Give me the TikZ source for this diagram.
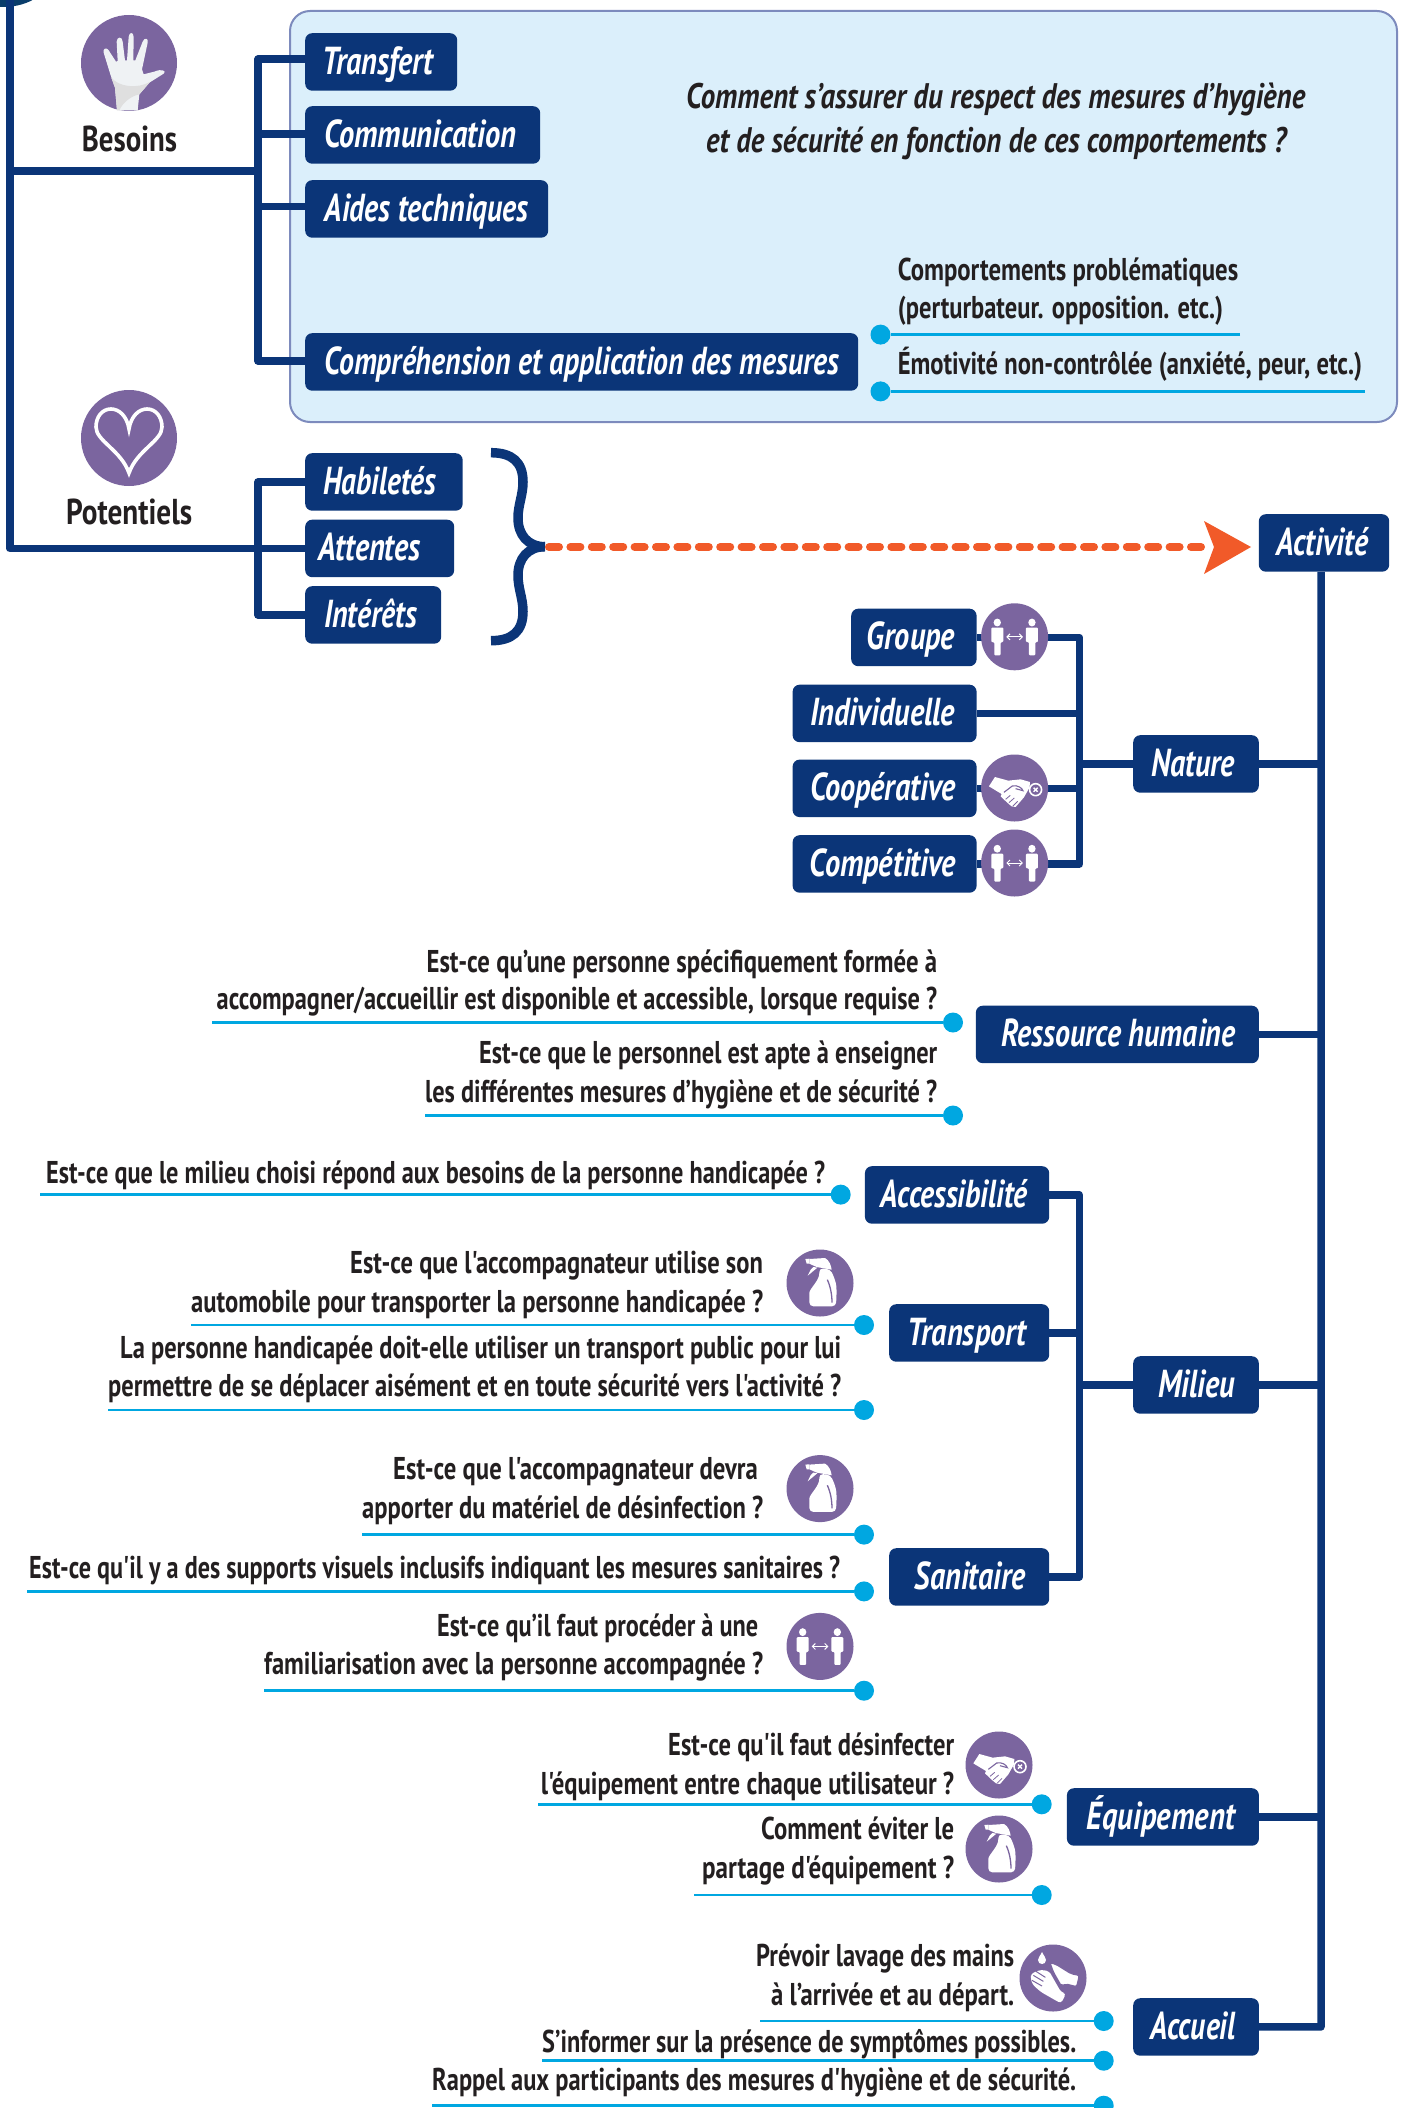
\documentclass[tikz,border=0pt]{standalone}
\usepackage{fontspec}
\usepackage{graphicx}
\usetikzlibrary{arrows.meta,calc}
\newfontfamily\ptsans{PT Sans}
\definecolor{navy}{HTML}{0B3578}
\definecolor{purp}{HTML}{7B659F}
\definecolor{sky}{HTML}{00A7E1}
\definecolor{panelf}{HTML}{DBEFFB}
\definecolor{panelb}{HTML}{7D8BBD}
\definecolor{orng}{HTML}{F15A29}
\definecolor{ink}{HTML}{231F20}
\definecolor{blob}{HTML}{0A3D6B}
\pgfdeclarelayer{background}
\pgfsetlayers{background,main}
\tikzset{
  conn/.style={draw=navy,line width=7.5pt,line join=round},
  boxn/.style={fill=navy,rounded corners=7pt,inner sep=0pt,text=white,text height=41pt,text depth=16.5pt,anchor=north west,
    font=\ptsans\bfseries\itshape\fontsize{39}{39}\selectfont},
  txt/.style={inner sep=0pt,anchor=base west,text=ink,font=\ptsans\bfseries\fontsize{31.5}{31.5}\selectfont},
  headt/.style={txt,font=\ptsans\bfseries\fontsize{36}{36}\selectfont},
  ques/.style={txt,font=\ptsans\bfseries\itshape\fontsize{35.5}{35.5}\selectfont},
  dotn/.style={circle,fill=sky,minimum size=20pt,inner sep=0pt},
  leadl/.style={draw=sky,line width=2.6pt},
  iconc/.style={circle,fill=purp,minimum size=67pt,inner sep=0pt},
  iconb/.style={circle,fill=purp,minimum size=96pt,inner sep=0pt},
  pics/handic/.style={code={
    \begin{scope}[x=.3333pt,y=-.3333pt,shift={(-164,-156)}]
      \fill[white!95!black!98!cyan] (128,298) -- (122,230) -- (108,190) -- (88,125) .. controls (85,112) and (97,108) .. (103,118)
        -- (125,152) -- (130,150) -- (127,92) .. controls (127,76) and (145,76) .. (145,92) -- (152,148) -- (158,148) -- (163,78)
        .. controls (164,62) and (178,62) .. (178,78) -- (177,148) -- (183,148) -- (205,92) .. controls (210,78) and (224,82) .. (220,95)
        -- (203,175) -- (208,190) -- (240,182) .. controls (262,172) and (278,180) .. (268,188) -- (225,215) -- (195,250) -- (190,298) -- cycle;
      \fill[gray!25] (110,198) .. controls (130,228) and (190,235) .. (228,212) -- (195,250) .. controls (170,255) and (145,275) .. (135,298) -- (128,298) -- (122,230) -- cycle;
    \end{scope}}},
  pics/heartic/.style={code={
    \draw[white,line width=3.6pt,line join=miter] (0,-9) .. controls (-2,-22) and (-10,-29) .. (-18,-29) .. controls (-27,-29) and (-33,-21) .. (-33,-11)
      .. controls (-33,3) and (-8,12) .. (0,35) .. controls (8,12) and (33,3) .. (33,-11) .. controls (33,-21) and (27,-29) .. (18,-29) .. controls (10,-29) and (2,-22) .. cycle;}},
  pics/peopleic/.style={code={
    \begin{scope}[x=.3333pt,y=-.3571pt,shift={(-360,-1390)}]
      \foreach \mx in {0,1}{
        \begin{scope}[xshift={\mx*104*.3333pt}]
        \fill[white] (308,1350) circle[x radius=11,y radius=11];
        \fill[white,rounded corners=1pt] (290,1364) -- (326,1364) -- (326,1405) -- (318,1405) -- (318,1442) -- (299,1442) -- (299,1405) -- (290,1405) -- cycle;
        \end{scope}}
      \draw[white,line width=1pt,{Straight Barb[length=3pt,width=6pt]}-{Straight Barb[length=3pt,width=6pt]}] (335,1390) -- (385,1390);
    \end{scope}}},
  pics/sprayic/.style={code={
    \begin{scope}[x=.3333pt,y=-.3333pt,shift={(-150,-148)}]
      \fill[white] (106,76) -- (118,75) -- (118,90) -- (110,90) -- cycle;
      \fill[white] (118,76) -- (165,73) .. controls (178,80) and (183,95) .. (185,108) -- (140,100) -- (118,90) -- cycle;
      \fill[white] (130,100) -- (142,102) -- (113,126) -- (122,108) -- cycle;
      \fill[white,rounded corners=4pt] (147,104) .. controls (150,140) and (118,165) .. (118,190) -- (118,218) -- (198,218) -- (200,170) .. controls (198,145) and (190,125) .. (180,106) -- cycle;
      \draw[purp,line width=1.3pt] (172,138) .. controls (182,160) and (186,185) .. (186,207);
    \end{scope}}},
  pics/shakeic/.style={code={
    \begin{scope}[x=.3333pt,y=-.3333pt,shift={(-147,-150)}]
      \fill[white] (70,145) -- (88,117) -- (128,128) -- (165,124) -- (193,132) -- (192,148) -- (175,178) -- (150,207) -- (138,205) -- (125,194) -- (105,175) -- (108,168) -- cycle;
      \draw[purp,line width=1.1pt] (115,163) -- (140,144) .. controls (155,140) and (170,150) .. (172,158) -- (150,152);
      \draw[purp,line width=.8pt] (120,184) -- (134,172) (130,194) -- (146,180) (142,204) -- (156,190);
      \filldraw[fill=purp,draw=white,line width=1.6pt] (210,155) circle[x radius=18,y radius=18];
      \draw[white,line width=1.4pt] (204,149) -- (216,161) (216,149) -- (204,161);
    \end{scope}}},
  pics/washic/.style={code={
    \begin{scope}[x=.3333pt,y=-.3333pt,shift={(-151,-148)}]
      \fill[white] (118,70) .. controls (124,82) and (130,88) .. (130,94) .. controls (130,110) and (106,110) .. (106,94) .. controls (106,88) and (112,82) .. (118,70) -- cycle;
      \fill[white,rounded corners=3pt] (85,135) -- (115,123) -- (140,128) -- (152,150) -- (175,190) -- (190,195) -- (175,224) -- (150,210) -- (115,190) -- (90,168) -- (84,150) -- cycle;
      \draw[purp,line width=1pt] (92,140) -- (122,158) (88,155) -- (118,172) (100,128) -- (128,146);
      \filldraw[fill=white,draw=purp,line width=1.2pt,rounded corners=2pt] (142,102) -- (160,107) -- (205,135) -- (230,140) -- (222,174) -- (190,166) -- (176,172) -- (152,130) -- cycle;
    \end{scope}}},
}
\newcommand{\tline}[6][txt]{\node[#1] (#2) at (#3,{#5+1}) {\resizebox{\dimexpr#4pt-#3pt\relax}{\height}{#6}};}
\newcommand{\bx}[7]{\node[boxn,minimum width={(#3-#2)*1pt}] (#1) at (#2,#4) {\resizebox{#6pt}{\height}{#5}\hspace*{#7pt}};}
\newcommand{\lead}[4]{\node[dotn] (#1) at (#3,#4) {}; \coordinate (#1s) at (#2,#4); \begin{pgfonlayer}{background}\draw[leadl] (#1s) -- (#1);\end{pgfonlayer}}
\begin{document}
\begin{tikzpicture}[x=1pt,y=-1pt]
\useasboundingbox (0,0) rectangle (1404,2108);

% --- boxes
\bx{transfert}{305}{457}{33}{Transfert}{110}{6.8}
\bx{commu}{305}{540}{106}{Communication}{192}{5.4}
\bx{aides}{305}{548}{180}{Aides techniques}{204}{0}
\bx{compr}{305}{858}{333}{Compréhension et application des mesures}{515}{0}
\bx{habil}{305}{462.5}{453}{Habiletés}{113}{8}
\bx{attent}{305}{454}{519.5}{Attentes}{102}{20}
\bx{interet}{305}{441}{586}{Intérêts}{93}{5.4}
\bx{activite}{1258.6}{1389}{514}{Activité}{92}{3.4}
\bx{groupe}{851}{976.4}{608.5}{Groupe}{88}{6}
\bx{indiv}{792.4}{976.4}{684.5}{Individuelle}{145}{4}
\bx{coop}{792.4}{976.4}{759.4}{Coopérative}{145}{4}
\bx{compet}{792.4}{976.4}{835}{Compétitive}{146}{4}
\bx{nature}{1133}{1258.6}{735}{Nature}{84}{6}
\bx{ressource}{975.6}{1258.6}{1005.5}{Ressource humaine}{234}{-2}
\bx{access}{864.7}{1049}{1166}{Accessibilité}{147}{6}
\bx{transp}{889}{1049}{1304}{Transport}{118}{4.8}
\bx{sanit}{889}{1049}{1548}{Sanitaire}{111}{-2}
\bx{milieu}{1133}{1258.6}{1356}{Milieu}{77}{-2}
\bx{equip}{1066.7}{1258.7}{1788}{Équipement}{148}{4}
\bx{accueil}{1133}{1258.7}{1998}{Accueil}{85}{6}

% --- icons
\node[iconb] (ibes) at (129,63) {};
\pic at (ibes) {handic};
\node[iconb] (ipot) at (129,438) {};
\pic at (ipot) {heartic};
\node[iconc] (ig) at (1014.6,636.8) {};
\pic at (ig) {peopleic};
\node[iconc] (ico) at (1014.6,788) {};
\pic at (ico) {shakeic};
\node[iconc] (icm) at (1014.6,863) {};
\pic at (icm) {peopleic};
\node[iconc] (is1) at (820,1283) {};
\pic at (is1) {sprayic};
\node[iconc] (is2) at (820,1488.6) {};
\pic at (is2) {sprayic};
\node[iconc] (ip3) at (820,1646.4) {};
\pic at (ip3) {peopleic};
\node[iconc] (ish) at (999,1765) {};
\pic at (ish) {shakeic};
\node[iconc] (is3) at (999,1849) {};
\pic at (is3) {sprayic};
\node[iconc] (iw) at (1053,1978) {};
\pic at (iw) {washic};

% --- texts
\tline[headt]{tbes}{81.7}{176.8}{150.7}{Besoins}
\tline[headt]{tpot}{66}{192}{523}{Potentiels}
\tline[ques]{q1}{686}{1305}{108}{Comment s’assurer du respect des mesures d’hygiène}
\tline[ques]{q2}{706}{1286}{152}{et de sécurité en fonction de ces comportements ?}
\tline{c1}{897.6}{1238}{280}{Comportements problématiques}
\tline{c2}{897.6}{1223}{318}{(perturbateur. opposition. etc.)}
\tline{c3}{897.6}{1362}{373}{Émotivité non-contrôlée (anxiété, peur, etc.)}
\tline{r1}{426.4}{937}{971.5}{Est-ce qu’une personne spécifiquement formée à}
\tline{r2}{216.5}{937}{1008.5}{accompagner/accueillir est disponible et accessible, lorsque requise ?}
\tline{r3}{479}{937}{1062.5}{Est-ce que le personnel est apte à enseigner}
\tline{r4}{425}{937}{1101}{les différentes mesures d’hygiène et de sécurité ?}
\tline{m1}{46}{825}{1182}{Est-ce que le milieu choisi répond aux besoins de la personne handicapée ?}
\tline{m2}{350}{762.7}{1272.5}{Est-ce que l'accompagnateur utilise son}
\tline{m3}{191}{763}{1311}{automobile pour transporter la personne handicapée ?}
\tline{m4}{120}{841}{1357}{La personne handicapée doit-elle utiliser un transport public pour lui}
\tline{m5}{108}{841}{1395}{permettre de se déplacer aisément et en toute sécurité vers l'activité ?}
\tline{m6}{393}{757.7}{1478.6}{Est-ce que l'accompagnateur devra}
\tline{m7}{362}{763}{1517}{apporter du matériel de désinfection ?}
\tline{m8}{29}{840}{1577}{Est-ce qu'il y a des supports visuels inclusifs indiquant les mesures sanitaires ?}
\tline{m9}{437}{758}{1635}{Est-ce qu’il faut procéder à une}
\tline{m10}{264}{763}{1673}{familiarisation avec la personne accompagnée ?}
\tline{e1}{668}{954}{1754}{Est-ce qu'il faut désinfecter}
\tline{e2}{540.7}{954}{1793}{l'équipement entre chaque utilisateur ?}
\tline{e3}{761}{954}{1838}{Comment éviter le}
\tline{e4}{702}{954}{1877}{partage d'équipement ?}
\tline{a1}{756}{1014}{1965}{Prévoir lavage des mains}
\tline{a2}{771}{1014}{2004}{à l’arrivée et au départ.}
\tline{a3}{542}{1076}{2051.7}{S’informer sur la présence de symptômes possibles.}
\tline{a4}{432}{1076}{2089}{Rappel aux participants des mesures d'hygiène et de sécurité.}

% --- connector junctions
\coordinate (top) at (10,0);
\coordinate (tj) at (10,171);
\coordinate (tb) at (top |- attent.west);
\coordinate (bb) at (258,171);
\coordinate (pbx) at (258,0);
\coordinate (pb) at (pbx |- attent.west);
\coordinate (nbx) at (1079.5,0);
\coordinate (nb) at (nbx |- nature.west);
\coordinate (mbx) at (1079.3,0);
\coordinate (mb) at (mbx |- milieu.west);
\coordinate (mxx) at (1321,0);
\coordinate (mx) at (mxx |- accueil.east);
\coordinate (bracetip) at (549,547);
\coordinate (arrowend) at (1208,547);

\begin{pgfonlayer}{background}
  \fill[blob] (3,-26) ellipse[x radius=48,y radius=33];
  \node[draw=panelb,fill=panelf,line width=2pt,rounded corners=20pt,minimum width=1107pt,minimum height=411pt,inner sep=0pt,anchor=north west] (panel) at (289,10) {};
  \draw[conn] (top) -- (tb) -- (attent.west);
  \draw[conn] (tj) -- (bb);
  \draw[conn] ([yshift=2.7pt]transfert.west) -| (bb) |- ([yshift=1pt]compr.west);
  \draw[conn] ([yshift=1pt]commu.west) -- ([yshift=1pt]commu.west -| bb);
  \draw[conn] ([yshift=2.5pt]aides.west) -- ([yshift=2.5pt]aides.west -| bb);
  \draw[conn] (habil.west) -| (pb) |- (interet.west);
  \draw[conn] (groupe.east) -| (nb) |- (compet.east);
  \draw[conn] (indiv.east) -- (indiv.east -| nb);
  \draw[conn] (coop.east) -- (coop.east -| nb);
  \draw[conn] (nb) -- (nature.west);
  \draw[conn] ([xshift=-2.8pt]activite.south) -- (mx) -- (accueil.east);
  \draw[conn] (nature.east) -- (nature.east -| mx);
  \draw[conn] (ressource.east) -- (ressource.east -| mx);
  \draw[conn] (access.east) -| (mb) |- (sanit.east);
  \draw[conn] (transp.east) -- (transp.east -| mb);
  \draw[conn] (mb) -- (milieu.west);
  \draw[conn] (milieu.east) -- (milieu.east -| mx);
  \draw[conn] (equip.east) -- (equip.east -| mx);
\end{pgfonlayer}

% --- brace and dashed arrow
\draw[navy,line width=9.5pt] (491,452.7) .. controls (512,452.7) and (523,462) .. (523,482) .. controls (523,495) and (518,505) .. (518,518)
  .. controls (518,535) and (528,546.7) .. (545,546.7);
\draw[navy,line width=9.5pt] (491,640.7) .. controls (512,640.7) and (523,631.4) .. (523,611.4) .. controls (523,598.4) and (518,588.4) .. (518,575.4)
  .. controls (518,558.4) and (528,546.7) .. (545,546.7);
\draw[orng,line width=8pt,line cap=round,dash pattern=on 10pt off 11.4pt] (bracetip) -- (arrowend);
\fill[orng] (1204,521) -- (1251,547) -- (1204,574) -- (1214,547) -- cycle;

% --- lead lines with dots
\lead{dc1}{1240}{880.5}{334.6}
\lead{dc2}{1364.6}{880.5}{391.4}
\lead{dr1}{212}{953}{1022.5}
\lead{dr2}{425}{953}{1115.5}
\lead{dm1}{40}{840.7}{1194.6}
\lead{dm2}{191}{864}{1325}
\lead{dm3}{108}{864}{1410}
\lead{dm4}{362}{864}{1534.6}
\lead{dm5}{27}{864}{1591.4}
\lead{dm6}{264}{864}{1690.7}
\lead{de1}{538}{1041.7}{1804.3}
\lead{de2}{694}{1041.7}{1895}
\lead{da1}{760}{1103.7}{2021}
\lead{da2}{542}{1103.7}{2060.7}
\lead{da3}{432}{1103.7}{2105.7}
\end{tikzpicture}
\end{document}
